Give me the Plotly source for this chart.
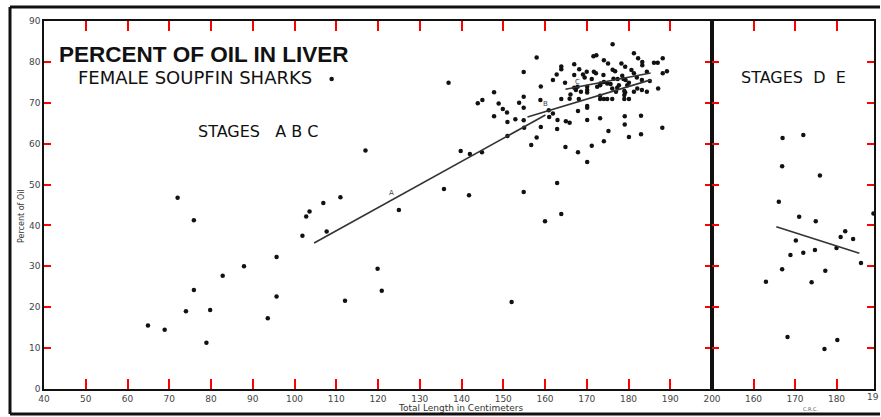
import plotly.graph_objects as go

# ---------------- data ----------------
abc_len = [72.0, 75.9, 102.8, 103.6, 101.9, 95.7, 87.9, 82.8, 75.9, 95.7, 74.0, 79.8, 93.6, 64.9, 68.9, 78.9,
           108.9, 136.9, 117.0, 139.8, 142.0, 111.0, 106.9, 107.7, 135.8, 141.8, 125.0, 119.9, 120.9, 112.1, 152.0,
           158.0, 154.9, 163.9, 163.9, 167.0, 168.2, 162.8, 161.9, 164.8, 167.0, 159.0, 147.8, 154.9, 145.0, 143.9,
           148.9, 153.8, 149.9, 154.9, 158.9, 163.9, 165.9, 168.1, 150.9, 147.8, 152.9, 154.9, 151.0, 160.9, 161.9,
           161.0, 163.0, 165.0, 165.9, 167.9, 159.0, 155.0, 162.9, 151.0, 158.0, 156.7, 164.9, 167.9, 144.9, 162.9,
           154.9, 163.9, 160.0,
           176.2, 171.6, 172.3, 181.3, 174.1, 175.1, 182.3, 183.3, 183.3, 187.0, 188.2, 186.1, 178.3, 179.2, 176.2,
           176.8, 180.7, 181.3, 170.0, 171.7, 172.2, 169.1, 174.0, 178.5, 184.4, 189.2, 188.2, 169.5, 171.2, 176.4,
           177.4, 178.8, 179.3, 182.0, 183.2, 185.1, 174.1, 173.3, 174.9, 175.7, 177.7, 177.3, 180.1, 179.7, 167.8,
           170.1, 170.1, 170.1, 172.5, 173.2, 168.6, 167.4, 176.1, 177.0, 179.0, 179.2, 182.1, 183.2, 184.4, 181.3,
           166.1, 173.2, 173.2, 174.1, 174.9, 176.1, 179.0, 179.0, 180.1, 187.1, 170.1, 170.1, 170.1, 173.2, 179.1,
           183.0, 179.1, 188.1, 175.2, 180.1, 183.0, 174.1, 171.2, 170.1, 167.0]
abc_oil = [46.8, 41.3, 42.2, 43.4, 37.5, 32.3, 30.0, 27.7, 24.2, 22.6, 19.0, 19.3, 17.3, 15.5, 14.5, 11.3,
           75.8, 74.9, 58.3, 58.2, 57.5, 46.9, 45.5, 38.5, 48.9, 47.4, 43.8, 29.4, 24.0, 21.6, 21.3,
           81.1, 77.5, 78.9, 78.2, 79.4, 78.2, 76.9, 75.6, 74.9, 76.8, 74.0, 72.6, 71.5, 70.7, 69.9,
           69.8, 70.0, 68.5, 68.8, 70.7, 70.9, 71.0, 70.9, 67.6, 66.7, 66.0, 65.7, 65.3, 68.2, 67.4,
           66.5, 65.8, 65.5, 65.1, 68.0, 64.1, 63.9, 63.6, 61.9, 61.5, 59.7, 59.2, 57.9, 57.9, 50.4,
           48.2, 42.8, 41.0,
           84.3, 81.4, 81.6, 82.1, 80.4, 79.6, 80.9, 80.0, 79.2, 79.8, 80.9, 79.8, 79.6, 78.8, 78.1,
           77.7, 78.0, 77.2, 77.6, 77.6, 77.2, 76.9, 76.8, 76.6, 77.6, 77.7, 77.2, 76.2, 75.8, 75.9,
           75.8, 75.8, 75.6, 76.2, 75.6, 75.3, 75.1, 74.7, 74.7, 74.6, 74.3, 73.7, 74.9, 74.3, 73.9,
           73.9, 73.1, 72.5, 73.9, 74.3, 72.7, 73.1, 73.5, 72.7, 72.9, 72.5, 73.5, 73.1, 72.7, 72.7,
           72.0, 71.7, 70.9, 70.9, 70.9, 70.9, 71.9, 70.9, 70.9, 73.5, 69.2, 68.8, 65.8, 66.2, 66.7,
           66.8, 64.7, 63.9, 63.1, 61.6, 62.3, 60.6, 59.5, 55.5, 73.7]

de_len = [167.0, 172.0, 166.9, 176.0, 166.1, 188.9, 171.0, 175.0, 182.1, 181.0, 184.0, 170.2,
          180.0, 172.0, 174.8, 168.9, 185.9, 166.9, 177.3, 163.0, 174.0, 168.2, 180.2, 177.1]
de_oil = [61.4, 62.1, 54.5, 52.2, 45.8, 42.9, 42.1, 41.0, 38.6, 37.2, 36.7, 36.3,
          34.5, 33.3, 34.0, 32.8, 30.8, 29.3, 28.9, 26.2, 26.1, 12.7, 12.0, 9.8]

line_a_len = [104.7, 160.1]
line_a_oil = [35.7, 67.0]
line_b_len = [155.8, 185.3]
line_b_oil = [66.5, 75.6]
line_c_len = [164.9, 185.3]
line_c_oil = [73.3, 77.3]
line_de_len = [165.5, 185.5]
line_de_oil = [39.7, 33.2]

line_labels = ["A", "B", "C"]
line_label_len = [123.2, 160.0, 167.7]
line_label_oil = [47.9, 69.7, 75.1]

x_ticks_left = list(range(40, 201, 10))
x_ticks_right = [160, 170, 180]
y_ticks = list(range(0, 91, 10))
x_range_left = [40, 200]
y_range = [0, 90]

W, H = 881, 417
ML, MR, MT, MB = 44, 7, 21, 28
PW, PH = W - ML - MR, H - MT - MB
split = (712 - ML) / PW
x_range_right = [150, 150 + (874 - 712) / 4.15]


def px(xp):
    return (xp - ML) / PW


def py(yp):
    return (H - MB - yp) / PH


ink = "#111111"
tickfont = dict(family="DejaVu Sans", size=9, color="#444444")

fig = go.Figure()
fig.add_trace(go.Scatter(x=abc_len, y=abc_oil, mode="markers", xaxis="x", yaxis="y",
                         marker=dict(size=4.5, color=ink), showlegend=False, hoverinfo="skip"))
for lx, ly in [(line_a_len, line_a_oil), (line_b_len, line_b_oil), (line_c_len, line_c_oil)]:
    fig.add_trace(go.Scatter(x=lx, y=ly, mode="lines", xaxis="x", yaxis="y",
                             line=dict(color="#333333", width=1.6), showlegend=False, hoverinfo="skip"))
fig.add_trace(go.Scatter(x=de_len, y=de_oil, mode="markers", xaxis="x2", yaxis="y2",
                         marker=dict(size=4.5, color=ink), showlegend=False, hoverinfo="skip"))
fig.add_trace(go.Scatter(x=line_de_len, y=line_de_oil, mode="lines", xaxis="x2", yaxis="y2",
                         line=dict(color="#333333", width=1.6), showlegend=False, hoverinfo="skip"))

common_axis = dict(showline=True, linecolor=ink, showgrid=False, zeroline=False,
                   ticks="inside", tickcolor="red", tickwidth=2, mirror="ticks", tickfont=tickfont,
                   automargin=False, fixedrange=True)

fig.update_layout(
    template="none",
    width=W, height=H, autosize=False, showlegend=False,
    margin=dict(l=ML, r=MR, t=MT, b=MB, pad=0, autoexpand=False),
    paper_bgcolor="white", plot_bgcolor="white",
    font=dict(family="DejaVu Sans", color=ink),
    xaxis=dict(domain=[0, split], range=x_range_left, tickvals=x_ticks_left, ticklen=10, linewidth=2,
               anchor="y", **common_axis),
    yaxis=dict(domain=[0, 1], range=y_range, tickvals=y_ticks, ticklen=7, linewidth=1.5,
               anchor="x", **common_axis),
    xaxis2=dict(domain=[split, 1], range=x_range_right, tickvals=x_ticks_right,
                ticklen=10, linewidth=2, anchor="y2", **common_axis),
    yaxis2=dict(domain=[0, 1], range=y_range, tickvals=y_ticks, ticklen=7, linewidth=1.5, anchor="x2",
                showticklabels=False, **common_axis),
)

frame = dict(type="line", xref="paper", yref="paper", line=dict(color=ink, width=3), layer="above")
fig.add_shape(x0=px(10), x1=px(880), y0=py(7), y1=py(7), **frame)
fig.add_shape(x0=px(10), x1=px(880), y0=py(414), y1=py(414), **frame)
fig.add_shape(x0=px(10), x1=px(10), y0=py(7), y1=py(414), **frame)

ann = []
ann.append(dict(text="<b>PERCENT OF OIL IN LIVER</b>", x=px(57), y=py(55), xanchor="left", yanchor="middle",
                font=dict(family="Liberation Sans", size=22.5, color=ink)))
ann.append(dict(text="FEMALE SOUPFIN SHARKS", x=px(76), y=py(77.5), xanchor="left", yanchor="middle",
                font=dict(family="DejaVu Sans", size=18, color=ink)))
ann.append(dict(text="STAGES\u00a0\u00a0\u00a0A\u00a0B\u00a0C", x=px(196), y=py(131.5), xanchor="left",
                yanchor="middle", font=dict(family="DejaVu Sans", size=16, color=ink)))
ann.append(dict(text="STAGES\u00a0\u00a0D\u00a0\u00a0E", x=px(739), y=py(77), xanchor="left", yanchor="middle",
                font=dict(family="DejaVu Sans", size=16, color=ink)))
ann.append(dict(text="Total Length in Centimeters", x=px(461), y=py(408), xanchor="center", yanchor="middle",
                font=dict(family="DejaVu Sans", size=9, color="#333333")))
ann.append(dict(text="Percent of Oil", x=px(21), y=py(216), xanchor="center", yanchor="middle", textangle=-90,
                font=dict(family="DejaVu Sans", size=8, color="#333333")))
ann.append(dict(text="C.R.C.", x=px(810), y=py(409), xanchor="center", yanchor="middle",
                font=dict(family="DejaVu Sans", size=5, color="#555555")))
ann.append(dict(text="19", x=px(881), y=py(397), xanchor="right", yanchor="middle", font=tickfont))
for t in ann:
    t.update(xref="paper", yref="paper", showarrow=False)
for lab, lx, ly in zip(line_labels, line_label_len, line_label_oil):
    ann.append(dict(text=lab, x=lx, y=ly, xref="x", yref="y", showarrow=False,
                    font=dict(family="DejaVu Sans", size=7, color="#444444")))
fig.update_layout(annotations=ann)

fig.write_html("out.html", config={"displayModeBar": False})
